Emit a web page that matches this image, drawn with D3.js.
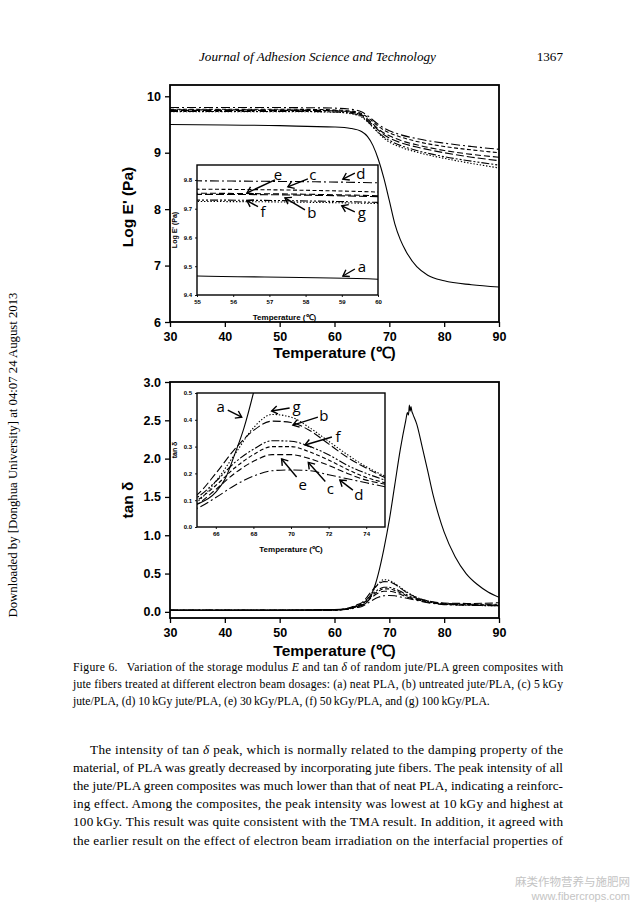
<!DOCTYPE html>
<html><head><meta charset="utf-8">
<script src="https://cdn.jsdelivr.net/npm/d3@7"></script>
<style>body{margin:0;background:#fff;} svg{display:block;}</style>
</head><body><svg id="c" width="635" height="905"></svg>
<script>
// ---------- DATA ----------
const seriesKeys = ["a","b","c","d","e","f","g"];
const modXTicks = [30,40,50,60,70,80,90];
const modYTicks = [6,7,8,9,10];
const modInsetXTicks = [55,56,57,58,59,60];
const modInsetYTicks = [9.4,9.5,9.6,9.7,9.8];
const tanXTicks = [30,40,50,60,70,80,90];
const tanYTicks = [0,0.5,1.0,1.5,2.0,2.5,3.0];
const tanInsetXTicks = [66,68,70,72,74];
const tanInsetYTicks = [0,0.1,0.2,0.3,0.4,0.5];

// storage modulus (log E')
const modTempsA = [30,40,50,55,60,63,65,66,67,68,69,70,71,72,73,75,77,80,85,90];
const modA = [9.50,9.49,9.48,9.466,9.455,9.43,9.37,9.29,9.13,8.88,8.55,8.15,7.74,7.46,7.26,6.98,6.83,6.73,6.66,6.62];
const modTemps = [30,40,50,55,60,63,65,66,67,68,69,70,72,75,80,85,90];
const modB = [9.75,9.75,9.75,9.750,9.742,9.72,9.66,9.58,9.49,9.40,9.32,9.26,9.18,9.10,9.00,8.92,8.86];
const modC = [9.77,9.77,9.77,9.768,9.758,9.74,9.69,9.63,9.55,9.47,9.40,9.35,9.28,9.20,9.11,9.05,9.00];
const modD = [9.80,9.80,9.80,9.797,9.790,9.77,9.72,9.66,9.58,9.50,9.44,9.39,9.32,9.25,9.17,9.11,9.06];
const modE = [9.76,9.76,9.756,9.754,9.745,9.72,9.67,9.60,9.51,9.42,9.35,9.30,9.22,9.14,9.04,8.97,8.92];
const modF = [9.73,9.73,9.73,9.730,9.722,9.70,9.64,9.56,9.46,9.36,9.28,9.22,9.13,9.04,8.93,8.85,8.78];
const modG = [9.725,9.725,9.725,9.725,9.718,9.69,9.63,9.55,9.45,9.35,9.26,9.19,9.10,9.01,8.90,8.81,8.73];

// tan delta
const tanTempsA = [30,40,50,60,62,64,65,66,66.5,67,67.5,68,69,70,71,72,73,73.3,73.5,73.65,73.8,73.95,74.1,74.3,75,76,77,78,79,80,82,84,86,88,90];
const tanA = [0.025,0.025,0.025,0.03,0.04,0.07,0.085,0.13,0.18,0.27,0.37,0.5,0.82,1.2,1.66,2.12,2.5,2.6,2.57,2.70,2.62,2.68,2.62,2.58,2.45,2.15,1.84,1.52,1.26,1.04,0.72,0.5,0.36,0.26,0.19];
const tanTemps = [30,40,50,60,62,63,64,65,66,67,68,69,70,71,72,73,74,75,77,80,85,90];
const tanB = [0.02,0.02,0.02,0.025,0.04,0.06,0.09,0.12,0.20,0.29,0.36,0.395,0.39,0.36,0.31,0.26,0.22,0.185,0.145,0.115,0.11,0.12];
const tanC = [0.02,0.02,0.02,0.025,0.035,0.05,0.075,0.10,0.155,0.22,0.27,0.30,0.30,0.28,0.25,0.215,0.185,0.165,0.13,0.105,0.095,0.09];
const tanD = [0.02,0.02,0.02,0.02,0.03,0.04,0.055,0.07,0.11,0.155,0.19,0.21,0.213,0.21,0.195,0.18,0.165,0.15,0.12,0.095,0.085,0.08];
const tanE = [0.02,0.02,0.02,0.025,0.035,0.045,0.065,0.085,0.14,0.20,0.245,0.27,0.27,0.255,0.23,0.20,0.175,0.16,0.125,0.10,0.09,0.085];
const tanF = [0.02,0.02,0.02,0.025,0.04,0.055,0.08,0.11,0.17,0.24,0.29,0.322,0.32,0.30,0.27,0.23,0.20,0.175,0.14,0.11,0.10,0.10];
const tanG = [0.02,0.02,0.02,0.025,0.035,0.05,0.07,0.094,0.17,0.27,0.37,0.42,0.41,0.37,0.32,0.27,0.225,0.19,0.14,0.10,0.085,0.08];

// annotation arrows: label, tip (data), tail offset & label offset (px)
const modArrows = [
  {k:"e", x:56.38, y:9.755, tail:[28,-13], lab:[31,-18]},
  {k:"c", x:57.51, y:9.776, tail:[20,-8], lab:[25,-12]},
  {k:"d", x:59.03, y:9.803, tail:[12,-6], lab:[18,-5]},
  {k:"f", x:56.38, y:9.728, tail:[11,6], lab:[16,11]},
  {k:"b", x:57.43, y:9.738, tail:[20,12], lab:[27,15]},
  {k:"g", x:59.00, y:9.710, tail:[13,6], lab:[20,7]},
  {k:"a", x:59.03, y:9.466, tail:[12,-7], lab:[19,-9]}
];
const tanArrows = [
  {k:"a", x:67.38, y:0.410, tail:[-14,-7], lab:[-21,-10]},
  {k:"g", x:68.97, y:0.433, tail:[18,-3], lab:[25,-4]},
  {k:"b", x:70.10, y:0.380, tail:[25,-8], lab:[31,-9]},
  {k:"f", x:70.74, y:0.306, tail:[27,-8], lab:[33,-8]},
  {k:"e", x:69.50, y:0.254, tail:[15,18], lab:[21,26]},
  {k:"c", x:70.92, y:0.241, tail:[17,19], lab:[22,26]},
  {k:"d", x:72.60, y:0.175, tail:[13,10], lab:[19,15]}
];

const dashes = {a:null, b:"8,3", c:"4,2.5", d:"9,3,2,3", e:"6,3", f:"8,2,2,2,2,2", g:"1.4,1.8"};

// ---------- BUILD ----------
const modSeries = [
  {k:"a", t:modTempsA, v:modA},{k:"b", t:modTemps, v:modB},{k:"c", t:modTemps, v:modC},
  {k:"d", t:modTemps, v:modD},{k:"e", t:modTemps, v:modE},{k:"f", t:modTemps, v:modF},{k:"g", t:modTemps, v:modG}
];
const tanSeries = [
  {k:"a", t:tanTempsA, v:tanA},{k:"b", t:tanTemps, v:tanB},{k:"c", t:tanTemps, v:tanC},
  {k:"d", t:tanTemps, v:tanD},{k:"e", t:tanTemps, v:tanE},{k:"f", t:tanTemps, v:tanF},{k:"g", t:tanTemps, v:tanG}
];

const svg = d3.select("#c");
const SANS = "'Liberation Sans', Arial, sans-serif";
const SERIF = "'Liberation Serif', 'Times New Roman', serif";
let clipId = 0;

function plot(g, cfg){
  const x = d3.scaleLinear().domain(cfg.xd).range([cfg.x0, cfg.x1]);
  const y = d3.scaleLinear().domain(cfg.yd).range([cfg.y1, cfg.y0]);
  g.append("rect").attr("x",cfg.x0).attr("y",cfg.y0).attr("width",cfg.x1-cfg.x0).attr("height",cfg.y1-cfg.y0).attr("fill","#fff");
  const id = "clip"+(clipId++);
  g.append("clipPath").attr("id",id).append("rect").attr("x",cfg.x0).attr("y",cfg.y0).attr("width",cfg.x1-cfg.x0).attr("height",cfg.y1-cfg.y0);
  const line = d3.line().x(d=>x(d[0])).y(d=>y(d[1])).curve(d3.curveMonotoneX);
  const lg = g.append("g").attr("clip-path","url(#"+id+")");
  cfg.series.forEach(s=>{
    const pts = s.t.map((t,i)=>[t,s.v[i]]);
    lg.append("path").attr("d",line(pts)).attr("fill","none").attr("stroke","#000")
      .attr("stroke-width",cfg.lw).attr("stroke-dasharray",dashes[s.k]);
  });
  const xa = g.append("g").attr("transform","translate(0,"+cfg.y1+")")
    .call(d3.axisBottom(x).tickValues(cfg.xt).tickSize(cfg.ts).tickSizeOuter(0).tickFormat(cfg.xf||d3.format("d")));
  const ya = g.append("g").attr("transform","translate("+cfg.x0+",0)")
    .call(d3.axisLeft(y).tickValues(cfg.yt).tickSize(cfg.ts).tickSizeOuter(0).tickFormat(cfg.yf));
  [xa,ya].forEach(a=>{
    a.select(".domain").remove();
    a.selectAll("line").attr("stroke","#000").attr("stroke-width",cfg.tw);
    a.selectAll("text").attr("font-family",SANS).attr("font-weight","bold").attr("font-size",cfg.fs).attr("fill","#000");
  });
  xa.selectAll("text").attr("dy",cfg.xdy);
  ya.selectAll("text").attr("dx",cfg.ydx);
  g.append("rect").attr("x",cfg.x0).attr("y",cfg.y0).attr("width",cfg.x1-cfg.x0).attr("height",cfg.y1-cfg.y0)
    .attr("fill","none").attr("stroke","#000").attr("stroke-width",cfg.fw);
  g.append("text").attr("x",(cfg.x0+cfg.x1)/2 + (cfg.xtdx||0)).attr("y",cfg.y1+cfg.xtOff).attr("text-anchor","middle")
    .attr("font-family",SANS).attr("font-weight","bold").attr("font-size",cfg.tfs).text("Temperature (\u2103)");
  g.append("text").attr("transform","translate("+cfg.ytX+","+cfg.ytY+") rotate(-90)").attr("text-anchor","middle")
    .attr("font-family",SANS).attr("font-weight","bold").attr("font-size",cfg.yfs||cfg.tfs).text(cfg.ytitle);
  return {x,y};
}

function arrows(g, sc, list){
  list.forEach(a=>{
    const tx = sc.x(a.x), ty = sc.y(a.y);
    const ex = tx + a.tail[0], ey = ty + a.tail[1];
    const ang = Math.atan2(ey-ty, ex-tx);
    const L = 7, w = 0.6;
    g.append("line").attr("x1",ex).attr("y1",ey).attr("x2",tx).attr("y2",ty).attr("stroke","#000").attr("stroke-width",1.4);
    g.append("path").attr("d",
      "M"+(tx+L*Math.cos(ang+w))+","+(ty+L*Math.sin(ang+w))+"L"+tx+","+ty+"L"+(tx+L*Math.cos(ang-w))+","+(ty+L*Math.sin(ang-w)))
      .attr("fill","none").attr("stroke","#000").attr("stroke-width",1.4);
    g.append("text").attr("x",tx+a.lab[0]).attr("y",ty+a.lab[1]).attr("dy","0.35em").attr("text-anchor","middle")
      .attr("font-family","'Open Sans', sans-serif").attr("font-size",15).text(a.k);
  });
}

// ----- top chart -----
const g1 = svg.append("g");
plot(g1,{x0:170,x1:499,y0:85,y1:322,xd:[30,90],yd:[6,10.2],series:modSeries,xt:modXTicks,yt:modYTicks,
  yf:d3.format("d"),ts:5,tw:1.3,fw:1.8,fs:12.5,xdy:"0.85em",ydx:"-1",lw:1.1,tfs:15.5,xtOff:36,ytX:133,ytY:207,ytitle:"Log E' (Pa)"});
const g1i = svg.append("g");
const s1i = plot(g1i,{x0:197,x1:378,y0:165,y1:295,xd:[55,60],yd:[9.4,9.852],series:modSeries,xt:modInsetXTicks,yt:modInsetYTicks,
  yf:d3.format(".1f"),ts:2,tw:0.9,fw:1.4,fs:6,xdy:"0.6em",ydx:"0",lw:1.1,tfs:8,yfs:7,xtOff:25,xtdx:-3,ytX:177,ytY:230,ytitle:"Log E' (Pa)"});
arrows(g1i, s1i, modArrows);

// ----- bottom chart -----
const g2 = svg.append("g");
plot(g2,{x0:170,x1:499,y0:382,y1:618,xd:[30,90],yd:[-0.08,3.0],series:tanSeries,xt:tanXTicks,yt:tanYTicks,
  yf:d3.format(".1f"),ts:5,tw:1.3,fw:1.8,fs:12.5,xdy:"0.85em",ydx:"-1",lw:1.1,tfs:15.5,xtOff:38,ytX:133,ytY:500,ytitle:"tan \u03b4"});
const g2i = svg.append("g");
const s2i = plot(g2i,{x0:197,x1:385,y0:393,y1:527,xd:[65,75],yd:[0,0.5],series:tanSeries,xt:tanInsetXTicks,yt:tanInsetYTicks,
  yf:d3.format(".1f"),ts:2,tw:0.9,fw:1.4,fs:6,xdy:"0.6em",ydx:"0",lw:1.1,tfs:8,yfs:7,xtOff:25,xtdx:0,ytX:177,ytY:450,ytitle:"tan \u03b4"});
arrows(g2i, s2i, tanArrows);

// ----- page text -----
const txt = (x,y,s,o={})=>svg.append("text").attr("x",x).attr("y",y).attr("font-family",SERIF)
  .attr("font-size",o.fs||13).attr("font-style",o.it?"italic":null).attr("text-anchor",o.anchor||"start").text(s);
txt(199,61,"Journal of Adhesion Science and Technology",{it:true,fs:13.2});
txt(563,61,"1367",{fs:13.2,anchor:"end"});

function justify(x,y,w,fs){
  const t = svg.append("text").attr("x",x).attr("y",y).attr("font-family",SERIF).attr("font-size",fs);
  if (w) t.attr("textLength",w).attr("lengthAdjust","spacing");
  return t;
}
const capLines = [
  ["Figure 6.\u2002 Variation of the storage modulus ",["E"]," and tan ",["\u03b4"]," of random jute/PLA green composites with"],
  ["jute fibers treated at different electron beam dosages: (a) neat PLA, (b) untreated jute/PLA, (c) 5\u2009kGy"],
  ["jute/PLA, (d) 10\u2009kGy jute/PLA, (e) 30\u2009kGy/PLA, (f) 50\u2009kGy/PLA, and (g) 100\u2009kGy/PLA."]
];
const capY = [671, 688, 705];
capLines.forEach((parts,i)=>{
  const t = justify(73,capY[i], i<2?490:null, 11.7);
  parts.forEach(p=>{
    if (Array.isArray(p)) t.append("tspan").attr("font-style","italic").text(p[0]);
    else t.append("tspan").text(p);
  });
});
const bodyLines = [
  ["The intensity of tan ",["\u03b4"]," peak, which is normally related to the damping property of the"],
  ["material, of PLA was greatly decreased by incorporating jute fibers. The peak intensity of all"],
  ["the jute/PLA green composites was much lower than that of neat PLA, indicating a reinforc-"],
  ["ing effect. Among the composites, the peak intensity was lowest at 10\u2009kGy and highest at"],
  ["100\u2009kGy. This result was quite consistent with the TMA result. In addition, it agreed with"],
  ["the earlier result on the effect of electron beam irradiation on the interfacial properties of"]
];
const bodyY = [754, 772, 790, 808, 826, 845];
bodyLines.forEach((parts,i)=>{
  const x0 = i===0?90:73;
  const t = justify(x0, bodyY[i], 563-x0, 13.2);
  parts.forEach(p=>{
    if (Array.isArray(p)) t.append("tspan").attr("font-style","italic").text(p[0]);
    else t.append("tspan").text(p);
  });
});

// side strip
svg.append("text").attr("transform","translate(17,455) rotate(-90)").attr("text-anchor","middle")
  .attr("font-family",SERIF).attr("font-size",13.5).attr("textLength",325).attr("lengthAdjust","spacingAndGlyphs")
  .text("Downloaded by [Donghua University] at 04:07 24 August 2013");

// watermark
svg.append("text").attr("x",630).attr("y",886).attr("text-anchor","end").attr("font-family","'Noto Sans CJK SC', sans-serif")
  .attr("font-size",11.5).attr("fill","#c4c4c4").text("\u9ebb\u7c7b\u4f5c\u7269\u8425\u517b\u4e0e\u65bd\u80a5\u7f51");
svg.append("text").attr("x",630).attr("y",900).attr("text-anchor","end").attr("font-family","'Liberation Sans', sans-serif")
  .attr("font-size",11).attr("fill","#c4c4c4").text("www.fibercrops.com");
</script></body></html>
